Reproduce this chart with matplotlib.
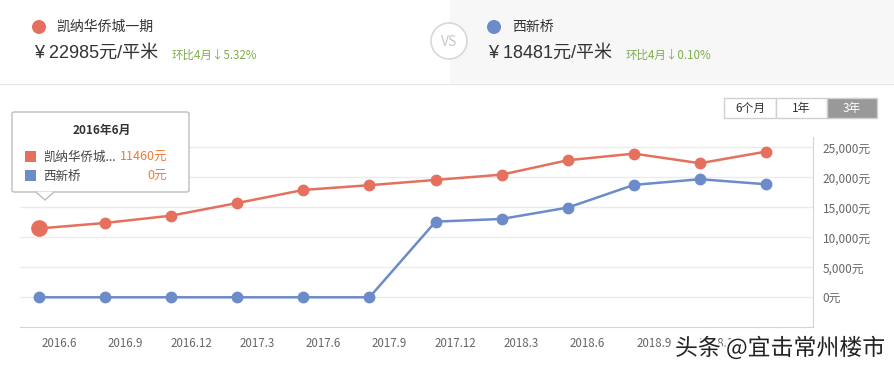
import matplotlib
matplotlib.use("Agg")
import matplotlib.pyplot as plt
import matplotlib.patheffects as pe
from matplotlib.patches import Rectangle, Circle, Polygon, FancyBboxPatch

plt.rcParams['font.family'] = ['Noto Sans CJK SC', 'DejaVu Sans']

# ---- data ----
periods = ["2016.6", "2016.9", "2016.12", "2017.3", "2017.6", "2017.9",
           "2017.12", "2018.3", "2018.6", "2018.9", "2018.12", "2019.3"]
tick_labels = ["2016.6", "2016.9", "2016.12", "2017.3", "2017.6", "2017.9",
               "2017.12", "2018.3", "2018.6", "2018.9", "2018.12"]
name_a = "凯纳华侨城一期"
name_b = "西新桥"
values_a = [11460, 12380, 13600, 15700, 17880, 18670, 19550, 20430, 22830, 23930, 22330, 24270]
values_b = [0, 0, 0, 0, 0, 0, 12600, 13050, 14940, 18720, 19670, 18830]
y_ticks = [0, 5000, 10000, 15000, 20000, 25000]
price_a, change_a = 22985, "环比4月↓5.32%"
price_b, change_b = 18481, "环比4月↓0.10%"
buttons = ["6个月", "1年", "3年"]
tooltip_title = "2016年6月"

RED = "#E5705E"
BLUE = "#6C8BC9"
W, H = 895, 369
PRICE_FONT = ['Liberation Sans', 'Noto Sans CJK SC', 'DejaVu Sans']

fig = plt.figure(figsize=(W / 100, H / 100), dpi=100)

def fx(px):
    return px / W

def fy(py):
    return 1 - py / H

# ---- header ----
ax_bg = fig.add_axes([0, 0, 1, 1], zorder=-1)
ax_bg.set_xlim(0, W); ax_bg.set_ylim(H, 0); ax_bg.axis("off")
ax_bg.add_patch(Rectangle((450, 0), 445, 83, facecolor="#f7f7f7", edgecolor="none", zorder=0))
ax_bg.plot([0, W], [83.5, 83.5], color="#e6e6e6", lw=1, zorder=1)
# VS circle
ax_bg.add_patch(Circle((449, 41), 18, facecolor="white", edgecolor="#d8d8d8", lw=1.2, zorder=2))
ax_bg.text(449, 42, "VS", ha="center", va="center", fontsize=10, color="#c8c8c8", zorder=3)

ax_bg.add_patch(Circle((39, 27), 7, facecolor=RED, edgecolor="none", zorder=2))
ax_bg.text(57, 27, name_a, ha="left", va="center", fontsize=10, color="#333333")
ax_bg.text(34, 53, f"¥ {price_a}元/平米", ha="left", va="center", fontsize=13,
           color="#333333", family=PRICE_FONT)
ax_bg.text(172, 55, change_a, ha="left", va="center", fontsize=8.3, color="#7fae4e")

ax_bg.add_patch(Circle((494, 27), 7, facecolor=BLUE, edgecolor="none", zorder=2))
ax_bg.text(512, 27, name_b, ha="left", va="center", fontsize=10, color="#333333")
ax_bg.text(488, 53, f"¥ {price_b}元/平米", ha="left", va="center", fontsize=13,
           color="#333333", family=PRICE_FONT)
ax_bg.text(626, 55, change_b, ha="left", va="center", fontsize=8.3, color="#7fae4e")

# buttons
bx = [724, 776, 827, 877]
for i, lab in enumerate(buttons):
    sel = i == len(buttons) - 1
    ax_bg.add_patch(Rectangle((bx[i], 98), bx[i + 1] - bx[i], 20,
                              facecolor="#999999" if sel else "white",
                              edgecolor="#d0d0d0", lw=1))
    ax_bg.text((bx[i] + bx[i + 1]) / 2, 108.5, lab, ha="center", va="center",
               fontsize=8.5, color="white" if sel else "#333333")

# ---- chart ----
ax = fig.add_axes([fx(20), fy(327.3), fx(813 - 20), (327.3 - 137) / H])
x = list(range(len(periods)))
ax.set_xlim(-0.287, 11.71)
ax.set_ylim(-5000, 26700)
for yv in y_ticks:
    ax.axhline(yv, color="#ebebeb", lw=1, zorder=0)
ax.plot(x, values_a, color=RED, lw=1.8, marker="o", ms=7.5, zorder=3)
ax.plot(x, values_b, color=BLUE, lw=1.8, marker="o", ms=7.5, zorder=3)
ax.plot([x[0]], [values_a[0]], marker="o", ms=11, color=RED, zorder=4)

for s in ["top", "left"]:
    ax.spines[s].set_visible(False)
ax.spines["right"].set_color("#d4d4d4")
ax.spines["bottom"].set_color("#d4d4d4")
ax.yaxis.tick_right()
ax.set_yticks(y_ticks)
ax.set_yticklabels([f"{v:,}元" for v in y_ticks], fontsize=8.5, color="#666666")
ax.tick_params(axis="y", length=0, pad=7)
ax.set_xticks([i + 0.3 for i in range(len(tick_labels))])
ax.set_xticklabels(tick_labels, fontsize=8.3, color="#666666")
ax.tick_params(axis="x", length=0, pad=7)
ax.set_facecolor("none")

# ---- tooltip ----
ax_tt = fig.add_axes([0, 0, 1, 1], zorder=10)
ax_tt.set_xlim(0, W); ax_tt.set_ylim(H, 0); ax_tt.axis("off")
ax_tt.add_patch(FancyBboxPatch((12, 112), 177, 80, boxstyle="round,pad=0,rounding_size=2",
                               facecolor="white", edgecolor="#bdbdbd", lw=1))
ax_tt.add_patch(Polygon([(36, 191.6), (54, 191.6), (45, 200)], closed=True,
                        facecolor="white", edgecolor="none"))
ax_tt.plot([36, 45, 54], [192, 200, 192], color="#bdbdbd", lw=1)
ax_tt.text(102, 130, tooltip_title, ha="center", va="center", fontsize=8.5,
           fontweight="bold", color="#333333")
ax_tt.add_patch(Rectangle((25, 151), 11, 11, facecolor=RED, edgecolor="none"))
ax_tt.add_patch(Rectangle((25, 170), 11, 11, facecolor=BLUE, edgecolor="none"))
ax_tt.text(43, 157, name_a[:5] + "...", ha="left", va="center", fontsize=9, color="#444444")
ax_tt.text(43, 176, name_b, ha="left", va="center", fontsize=9, color="#444444")
ax_tt.text(167, 157, f"{values_a[0]}元", ha="right", va="center", fontsize=9, color="#f07a33")
ax_tt.text(167, 176, f"{values_b[0]}元", ha="right", va="center", fontsize=9, color="#f07a33")

# ---- watermark ----
ax_tt.text(675, 348, "头条 @宜击常州楼市", ha="left", va="center", fontsize=16.5,
           color="#222222",
           path_effects=[pe.withStroke(linewidth=3, foreground="white")])

fig.savefig("out.png", dpi=100)
